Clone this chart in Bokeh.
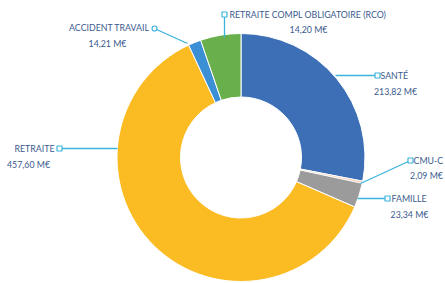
import math
from bokeh.plotting import figure
from bokeh.models import ColumnDataSource, Range1d
from bokeh.core.properties import value
from bokeh.embed import file_html
from bokeh.resources import INLINE

# ---- data ----
categories = ["SANTÉ", "CMU-C", "FAMILLE", "RETRAITE", "ACCIDENT TRAVAIL",
              "RETRAITE COMPL OBLIGATOIRE (RCO)"]
amount_labels = ["213,82 M€", "2,09 M€", "23,34 M€", "457,60 M€", "14,21 M€", "14,20 M€"]
# slice shares as drawn in the picture (percent of the ring)
drawn_share = [28.06, 0.28, 3.19, 61.53, 1.67, 5.27]
colors = ["#3d6fb7", "#f2c4a4", "#9b9b9b", "#fbbb22", "#3a8fd5", "#69af4b"]

# ---- layout (screen pixels) ----
W, H = 445, 283
CX, CY = 240.5, 157.0
R_OUT, R_IN = 124.0, 60.5
TEXT_COLOR = "#3a5a8e"
LINE_COLOR = "#3bb4dc"
FONT = "Lato"

def sy(y):
    return -y

p = figure(width=W, height=H, output_backend="svg", toolbar_location=None,
           x_range=Range1d(0, W), y_range=Range1d(-H, 0),
           min_border=0, outline_line_color=None)
p.axis.visible = False
p.grid.visible = False
p.background_fill_color = "white"

total = sum(drawn_share)
starts, ends = [], []
acc = 0.0
for s in drawn_share:
    a0 = acc / total * 2 * math.pi
    acc += s
    a1 = acc / total * 2 * math.pi
    # clockwise from 12 o'clock -> math angles
    starts.append(math.pi / 2 - a1)
    ends.append(math.pi / 2 - a0)

src = ColumnDataSource(dict(x=[CX] * len(categories), y=[sy(CY)] * len(categories),
                            start=starts, end=ends, color=colors, name=categories))
p.annular_wedge(x="x", y="y", inner_radius=R_IN, outer_radius=R_OUT,
                start_angle="start", end_angle="end", fill_color="color",
                line_color="white", line_width=1, source=src)

# leader lines: path, marker position, marker type, text x-start, line-1 y, line-2 y
leaders = {
    "SANTÉ": dict(path=[(335, 75), (377, 75)], m=(377, 75), mk="square", tx=380, y1=75, y2=91),
    "CMU-C": dict(path=[(360, 183), (410, 160)], m=(410, 160), mk="square", tx=413, y1=160, y2=175),
    "FAMILLE": dict(path=[(357, 198), (387, 198)], m=(387, 198), mk="square", tx=391, y1=198, y2=214),
    "RETRAITE": dict(path=[(117, 148), (59, 148)], m=(59, 148), mk="square", tx=None, y1=148, y2=164),
    "ACCIDENT TRAVAIL": dict(path=[(187, 43), (154, 28)], m=(154, 28), mk="circle", tx=None, y1=27, y2=43),
    "RETRAITE COMPL OBLIGATOIRE (RCO)": dict(path=[(224, 37), (224, 14)], m=(224, 14), mk="square", tx=229, y1=14, y2=29),
}

xs, ys = [], []
for c in categories:
    pts = leaders[c]["path"]
    xs.append([q[0] for q in pts])
    ys.append([sy(q[1]) for q in pts])
p.multi_line(xs=xs, ys=ys, line_color=LINE_COLOR, line_width=1.3)

sq_x = [leaders[c]["m"][0] for c in categories if leaders[c]["mk"] == "square"]
sq_y = [sy(leaders[c]["m"][1]) for c in categories if leaders[c]["mk"] == "square"]
p.scatter(sq_x, sq_y, marker="square", size=5, fill_color="white",
          line_color=LINE_COLOR, line_width=1.2)
ci_x = [leaders[c]["m"][0] for c in categories if leaders[c]["mk"] == "circle"]
ci_y = [sy(leaders[c]["m"][1]) for c in categories if leaders[c]["mk"] == "circle"]
p.scatter(ci_x, ci_y, marker="circle", size=5, fill_color="white",
          line_color=LINE_COLOR, line_width=1.2)

FS = "8.8px"
for c in categories:
    L = leaders[c]
    if L["tx"] is not None:
        p.text(x=[L["tx"]], y=[sy(L["y1"])], text=[c], text_font=value(FONT),
               text_font_size=FS, text_color=TEXT_COLOR, text_align="left",
               text_baseline="middle")
    else:
        p.text(x=[L["m"][0] - 5], y=[sy(L["y1"])], text=[c], text_font=value(FONT),
               text_font_size=FS, text_color=TEXT_COLOR, text_align="right",
               text_baseline="middle")

amt_pos = {
    "SANTÉ": 395, "CMU-C": 426, "FAMILLE": 409, "RETRAITE": 28,
    "ACCIDENT TRAVAIL": 107, "RETRAITE COMPL OBLIGATOIRE (RCO)": 308,
}
for c, amt in zip(categories, amount_labels):
    L = leaders[c]
    p.text(x=[amt_pos[c]], y=[sy(L["y2"])], text=[amt], text_font=value(FONT),
           text_font_size=FS, text_color=TEXT_COLOR, text_align="center",
           text_baseline="middle")

open("out.html", "w").write(file_html(p, INLINE))
